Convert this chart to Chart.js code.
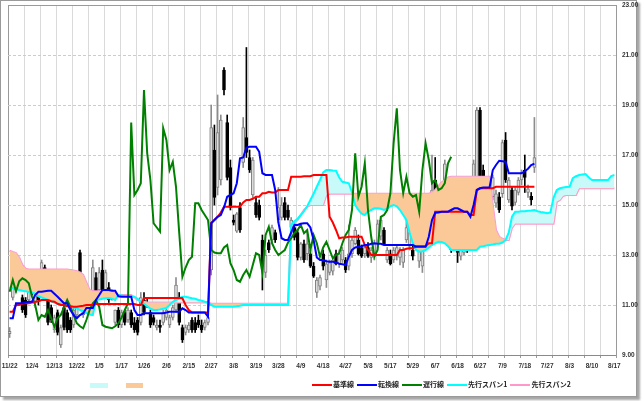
<!DOCTYPE html>
<html>
<head>
<meta charset="utf-8">
<script src="https://cdn.jsdelivr.net/npm/chart.js@4/dist/chart.umd.min.js"></script>
<style>
  body { margin: 0; background: #fff; }
  #wrap { position: relative; width: 644px; height: 401px; overflow: hidden; }
  #frame { position: absolute; left: 0; top: 0; width: 635px; height: 395px; border: 1px solid #9a9a9a;
           box-shadow: 3px 3px 2px rgba(0,0,0,0.35); background: #fff; }
  #chart { position: absolute; left: 0; top: 0; }
  .swatch { position: absolute; top: 383px; height: 5px; }
  #legend { position: absolute; left: 312px; top: 380px; display: flex; align-items: center;
            font: bold 7px "Noto Sans CJK JP", sans-serif; color: #222; line-height: 9px; white-space: nowrap; }
  #legend .ln { width: 20px; height: 2px; margin-right: 1px; }
  #legend .tx { margin-right: 3px; }
</style>
</head>
<body>
<div id="wrap">
  <div id="frame"></div>
  <canvas id="chart" width="644" height="401"></canvas>
  <div class="swatch" style="left:90px;width:18px;background:#c8fafa"></div>
  <div class="swatch" style="left:126px;width:17px;background:#fbc897"></div>
  <div id="legend"></div>
</div>
<script>
// 日付ラベル (7本ごと)
const dateLabels = ['11/22','12/4','12/13','12/22','1/5','1/17','1/26','2/6','2/15','2/27','3/8','3/19','3/28','4/9',
  '4/18','4/27','5/8','5/17','5/29','6/7','6/18','6/27','7/9','7/18','7/27','8/3','8/10','8/17'];

// ローソク足
const openPrice = [9.85,11.3,11.6,12.4,11.3,11.2,11.2,12.0,11.1,11.4, 11.9,12.5,11.2,10.9,10.0,10.7,9.4,10.9,10.7,10.4,
  10.2,10.6,13.1,10.6,10.8,11.0,10.9,12.1,11.6,12.4, 11.5,11.7,11.5,10.3,10.8,10.2,10.7,10.4,10.7,10.3,
  10.4,10.3,11.2,11.1,10.7,10.5,10.1,10.2,10.3,10.5, 10.2,10.5,10.8,11.2,10.1,9.9,10.0,10.4,10.3,10.4,
  10.2,10.1,10.3,12.4,17.2,15.7,16.0,20.4,18.3,16.5, 14.4,13.95,14.9,16.7,17.7,16.9,15.4,15.1,15.0,13.6,
  12.3,13.5,13.6,13.9,14.4,14.5,15.1,14.8,14.1,14.1, 13.9,12.9,13.45,13.05,13.05,12.55,11.5,11.75,13.05,12.0,
  12.3,12.35,13.05,12.65,12.8,12.8,12.55,13.05,13.45,13.6, 13.3,13.05,13.3,12.9,12.95,13.45,13.75,14.0,12.8,13.05,
  12.8,12.95,12.9,12.7,13.6,13.35,13.2,14.25,12.75,12.55, 13.7,14.4,14.9,16.0,15.45,15.2,15.7,15.7,14.4,14.25,
  14.4,12.95,13.1,14.1,14.15,15.6,15.9,18.8,16.4,15.2, 15.6,15.33,15.07,15.33,15.45,17.6,15.2,15.6,15.1,15.5,
  16.0,16.4,15.5,15.35,16.5];
const highPrice = [10.1,12.2,12.2,12.6,11.4,11.3,11.9,12.2,11.7,11.8, 12.8,12.6,11.4,11.0,10.6,10.8,10.2,11.0,10.8,10.5,
  10.9,11.4,13.2,11.4,11.3,11.5,12.8,12.3,12.5,12.8, 12.4,11.9,11.6,10.8,10.9,10.8,10.8,10.9,10.8,10.5,
  10.5,11.5,11.5,11.3,10.8,10.6,10.4,10.4,10.8,10.9, 10.6,11.0,12.1,11.5,10.2,10.2,10.3,10.5,10.5,10.6,
  10.4,10.4,10.6,19.0,18.2,19.4,18.6,20.5,18.6,16.8, 14.6,14.7,15.1,18.5,21.3,17.2,16.9,15.3,15.2,13.8,
  13.2,13.6,14.2,14.0,15.7,15.3,15.3,15.0,14.5,14.3, 14.0,13.5,13.6,14.0,13.2,12.7,12.1,12.2,13.2,12.8,
  12.8,12.9,13.2,13.2,13.3,12.9,14.2,13.7,14.1,13.8, 13.4,13.4,13.5,13.3,13.6,14.4,14.5,14.1,13.3,13.2,
  13.3,13.4,13.3,13.3,14.4,14.0,13.4,14.4,13.3,13.3, 14.3,15.0,17.0,16.9,15.6,15.8,16.8,15.9,14.6,14.4,
  14.5,13.9,14.3,14.2,15.8,16.8,18.9,18.9,16.6,15.7, 15.9,16.2,15.6,15.5,17.6,17.9,16.1,15.7,15.7,16.1,
  16.4,17.0,15.8,15.5,18.5];
const lowPrice = [9.7,11.2,11.5,11.6,10.7,10.5,11.1,11.4,10.9,11.0, 11.8,11.8,10.2,10.3,9.9,9.8,9.3,10.0,9.9,9.9,
  10.1,10.5,12.2,10.5,10.7,10.9,10.8,11.4,11.5,11.5, 11.4,11.1,11.2,10.2,10.1,10.1,10.2,10.3,10.1,9.9,
  9.8,10.2,10.6,10.9,10.1,10.2,10.0,9.9,10.2,10.4, 10.1,10.4,10.7,10.2,9.5,9.8,9.9,9.9,9.9,10.1,
  9.9,10.0,10.2,12.2,15.0,15.4,15.8,19.4,16.0,14.8, 14.2,13.9,13.9,16.5,16.9,16.3,15.3,14.5,14.4,11.6,
  12.1,13.1,13.5,13.5,14.3,14.4,14.4,14.4,14.0,13.6, 12.8,12.8,12.7,12.8,12.5,12.1,11.3,11.6,12.4,11.7,
  12.2,12.2,12.6,12.5,12.7,12.3,12.4,12.9,13.4,13.0, 12.9,12.9,12.9,12.7,12.8,13.4,13.6,13.4,12.7,12.6,
  12.7,12.8,12.6,12.5,13.5,13.2,12.8,13.4,12.5,12.3, 13.6,14.3,14.8,14.8,14.7,15.1,15.6,14.8,13.1,13.2,
  12.7,12.8,13.0,13.1,14.0,15.5,15.8,15.9,15.1,15.1, 15.0,15.2,14.9,14.7,15.3,15.9,15.1,14.8,15.0,15.4,
  15.8,15.5,15.3,15.0,16.3];
const closePrice = [9.95,12.0,11.9,11.9,10.8,10.6,11.7,11.5,11.6,11.2, 12.7,11.9,10.3,10.4,10.5,9.9,10.1,10.1,10.0,10.0,
  10.8,11.3,12.3,11.2,11.2,11.3,12.5,11.5,12.3,11.6, 12.3,11.2,11.3,10.8,10.2,10.7,10.3,10.8,10.2,10.0,
  9.9,11.3,10.7,11.0,10.2,10.3,10.2,10.1,10.7,10.8, 10.5,10.9,11.8,10.3,9.6,10.1,10.2,10.0,10.0,10.2,
  10.0,10.3,10.5,18.1,15.3,17.9,18.4,19.6,16.1,14.9, 14.3,14.65,14.0,18.1,17.1,16.4,16.8,14.6,14.5,12.6,
  13.0,13.2,14.1,13.6,14.9,15.0,14.5,14.5,14.4,13.7, 12.9,13.45,12.8,13.45,12.55,12.15,12.0,12.1,12.55,12.65,
  12.7,12.8,12.65,13.05,13.2,12.4,13.05,13.6,14.0,13.05, 12.95,13.3,12.95,13.2,13.45,14.25,14.4,13.45,13.2,12.65,
  13.2,13.3,13.2,13.2,14.1,13.9,12.95,13.45,13.2,13.2, 14.25,14.9,15.6,15.1,14.8,15.7,16.65,14.95,13.2,13.35,
  13.1,13.85,14.25,13.2,15.6,16.65,18.8,16.0,15.2,15.6, 15.1,16.1,15.45,14.8,17.5,16.0,16.0,14.95,15.6,16.0,
  16.3,16.1,15.65,15.2,16.9];

// 転換線
const tenkan = [10.47,10.47,11.07,11.07,11.07,11.1,11.13,11.13,11.4,11.53, 11.53,11.55,11.57,11.57,11.45,11.33,11.2,11.07,11.07,10.8,
  10.6,10.47,10.6,10.67,10.88,10.88,10.88,11.2,11.4,11.6, 11.6,11.6,11.57,11.57,11.35,11.33,11.33,11.33,11.33,10.8,
  10.6,10.6,10.67,10.67,10.67,10.67,10.67,10.67,10.67,10.7, 10.73,10.73,10.73,10.73,10.87,10.8,10.7,10.7,10.7,10.7,
  10.7,10.7,10.53,14.27,14.4,14.53,14.6,14.9,15.33,15.4, 15.47,15.87,16.87,16.9,17.3,17.33,17.33,17.33,17.13,16.27,
  16.2,16.2,16.2,15.6,14.3,13.67,13.6,13.6,13.9,14.2, 14.2,14.25,14.27,14.27,14.1,13.6,12.9,12.8,12.8,12.75,
  12.73,12.73,12.7,12.65,12.63,12.6,12.93,13.2,13.3,13.33, 13.35,13.4,13.4,13.45,13.47,13.45,13.45,13.4,13.4,13.4,
  13.4,13.4,13.4,13.4,13.4,13.4,13.4,13.33,13.33,13.33, 13.33,13.73,14.4,14.69,14.7,14.73,14.73,14.73,14.8,14.87,
  14.87,14.8,14.73,14.73,14.53,15.0,15.6,15.67,15.7,15.7, 15.71,16.4,16.6,16.77,16.75,16.73,16.27,16.27,16.27,16.27,
  16.27,16.35,16.45,16.6,16.65];

// 基準線
const kijun = [10.73,10.73,11.0,11.0,11.05,11.07,11.07,11.1,11.13,11.15, 11.2,11.2,11.2,11.15,11.13,11.05,11.0,11.0,10.95,10.95,
  10.93,10.93,10.95,10.97,11.0,11.0,11.0,11.04,11.04,11.04, 11.04,11.04,11.04,11.04,11.04,11.04,11.04,11.04,11.04,11.04,
  11.0,11.0,11.28,11.28,11.28,11.28,11.28,11.28,11.28,11.28, 11.28,11.28,11.28,11.28,11.27,11.0,10.8,10.7,10.7,10.7,
  10.7,10.7,10.7,14.28,14.4,14.53,14.7,14.93,14.93,14.93, 14.93,14.93,14.93,15.1,15.2,15.2,15.25,15.33,15.33,15.47,
  15.47,15.53,15.5,15.5,15.6,15.6,15.6,15.6,16.13,16.13, 16.13,16.13,16.15,16.15,16.15,16.2,16.2,16.2,16.2,16.2,
  14.53,14.3,14.0,13.67,13.7,13.7,13.73,13.73,13.73,13.73, 13.73,13.4,13.2,13.0,13.0,13.0,13.0,13.0,13.0,13.0,
  13.0,13.0,13.2,13.2,13.25,13.27,13.27,13.35,13.35,13.35, 13.35,13.47,13.47,14.73,14.73,14.73,14.73,14.73,14.73,14.73,
  14.73,14.73,14.73,14.73,14.6,14.6,15.6,15.67,15.67,15.67, 15.67,15.67,15.73,15.73,15.73,15.73,15.73,15.73,15.73,15.73,
  15.73,15.73,15.73,15.73,15.73];

// 遅行線
const chikou = [11.53,12.0,11.55,11.95,12.07,12.0,11.87,11.33,11.0,10.4, 10.6,10.53,10.8,10.47,10.13,10.47,10.6,10.9,11.2,10.93,
  10.6,10.27,10.15,10.07,10.4,10.8,11.07,11.2,10.93,10.2, 10.13,10.1,10.07,10.15,10.27,10.5,10.8,11.07,18.3,15.4,
  15.6,15.87,19.6,17.07,16.0,14.27,14.1,13.93,18.07,17.6, 16.4,16.73,15.73,13.9,12.13,12.5,12.8,12.93,15.07,15.07,
  14.8,14.6,14.4,13.2,13.1,13.07,13.07,13.3,13.4,12.67, 12.4,12.0,11.93,12.2,12.4,12.13,12.6,13.07,13.0,12.3,
  13.8,14.13,13.47,13.2,13.0,13.1,13.2,13.5,13.67,13.87, 14.0,14.2,13.87,14.0,13.2,13.8,13.47,12.93,13.3,13.53,
  13.2,12.87,13.0,13.07,13.47,13.8,14.0,14.8,17.07,15.33, 15.73,16.67,14.8,13.73,12.93,13.2,14.53,14.6,14.8,15.47,
  17.47,18.87,16.4,15.47,16.13,15.47,15.33,15.4,14.73,16.4, 17.47,16.8,15.87,16.0,15.6,15.67,15.87,16.67,16.93];

// 先行スパン1
const spanA = [11.71,11.68,11.65,11.6,11.57,11.55,11.52,11.5,11.45,11.35, 11.3,11.25,11.2,11.15,11.1,11.05,11.05,11.07,11.05,10.95,
  10.9,10.88,10.8,10.75,10.68,10.62,10.6,11.2,11.22,11.25, 11.27,11.28,11.25,11.2,11.4,11.38,11.36,11.35,11.34,11.33,
  11.25,11.13,11.05,10.95,10.85,10.8,10.8,10.82,10.85,10.88, 11.0,11.13,11.2,11.27,11.33,11.33,11.3,11.27,11.25,11.2,
  11.17,11.13,11.1,11.0,10.93,10.93,10.93,10.93,10.93,10.93, 10.93,10.95,10.97,11.0,11.0,11.0,11.0,11.0,11.0,11.0,
  11.0,11.0,11.0,11.0,11.0,11.0,11.0,11.0,14.2,14.35, 14.45,14.6,14.75,14.95,15.2,15.45,15.73,16.0,16.3,16.4,
  16.4,16.38,16.37,16.1,15.93,15.9,15.87,15.5,15.0,14.8, 14.65,14.6,14.75,14.8,14.87,14.87,14.85,14.8,14.85,14.95,
  15.0,14.95,14.8,14.6,14.4,13.9,13.47,13.2,13.13,13.15, 13.2,13.3,13.4,13.47,13.53,13.52,13.47,13.35,13.2,13.2,
  13.2,13.2,13.2,13.2,13.2,13.2,13.2,13.33,13.35,13.38, 13.4,13.42,13.45,13.45,13.5,13.6,13.9,14.53,14.73,14.73,
  14.75,14.75,14.77,14.78,14.8,14.75,14.72,14.7,14.67,14.7, 15.3,15.6,15.67,15.7,15.72,15.73,16.07,16.15,16.2,16.22,
  16.24,16.1,16.0,16.0,16.0,16.0,16.0,16.0,16.16,16.2];

// 先行スパン2
const spanB = [13.17,13.12,13.08,12.9,12.6,12.45,12.42,12.42,12.42,12.42, 12.42,12.42,12.42,12.42,12.42,12.42,12.42,12.42,12.42,12.4,
  12.38,12.35,12.3,12.2,11.9,11.6,11.55,11.55,11.55,11.55, 11.55,11.55,11.55,11.45,11.4,11.4,11.4,11.4,11.4,11.3,
  11.2,11.15,11.13,11.1,11.1,11.1,11.1,11.1,11.1,11.1, 11.1,11.1,11.1,11.1,11.1,11.1,11.1,11.1,11.1,11.1,
  11.1,11.1,11.1,11.05,11.05,11.05,11.05,11.05,11.05,11.05, 11.05,11.05,11.05,11.05,11.05,11.05,11.05,11.05,11.05,11.05,
  11.05,11.05,11.05,11.05,11.05,11.05,11.05,11.05,14.13,14.3, 14.4,14.6,14.8,14.93,15.0,15.0,15.0,15.0,15.0,15.4,
  15.45,15.45,15.45,15.45,15.45,15.45,15.45,15.45,15.45,15.45, 15.45,15.45,15.45,15.45,15.45,15.45,15.45,15.45,15.45,15.45,
  15.45,15.45,15.45,15.45,15.45,15.45,15.45,15.45,15.45,15.45, 15.45,15.45,15.5,15.6,15.75,15.9,16.0,16.1,16.13,16.13,
  16.13,16.13,16.13,16.13,16.13,16.13,16.13,16.13,16.13,16.13, 16.13,15.0,14.0,13.73,13.65,13.6,13.6,14.08,14.25,14.25,
  14.25,14.25,14.25,14.25,14.25,14.25,14.25,14.25,14.25,14.25, 14.25,15.13,15.2,15.36,15.4,15.4,15.4,15.4,15.67,15.67,
  15.67,15.67,15.67,15.67,15.67,15.67,15.67,15.67,15.67,15.67];

const yTicks = [9, 11, 13, 15, 17, 19, 21, 23];

const totalBars = spanA.length;           // 190
const COLOR_UP = '#8c8c8c';
const tickFont = { family: 'Liberation Sans', size: 6.5, weight: 'bold' };

const toPoints = (vals) => vals.map((v, i) => ({ x: i, y: v }));
const isUp = (i) => closePrice[i] >= openPrice[i];

const lineSet = (label, vals, color, order, extra) => Object.assign({
  type: 'line', label, data: toPoints(vals), borderColor: color, borderWidth: 2,
  pointRadius: 0, tension: 0, fill: false, order,
}, extra || {});

const datasets = [
  lineSet('転換線', tenkan, '#0000ff', 0),
  lineSet('基準線', kijun, '#ff0000', 1),
  lineSet('遅行線', chikou, '#008000', 2),
  lineSet('先行スパン1', spanA, '#00ffff', 3, { fill: { target: 4, above: '#c8fafa', below: '#fbc897' } }),
  lineSet('先行スパン2', spanB, '#ff99cc', 4),
  {
    type: 'bar', label: 'body', order: 5, grouped: false, barThickness: 3, minBarLength: 1,
    data: openPrice.map((o, i) => ({ x: i, y: [o, closePrice[i]] })),
    backgroundColor: openPrice.map((o, i) => isUp(i) ? '#dcdcdc' : '#000'),
    borderColor: openPrice.map((o, i) => isUp(i) ? '#808080' : '#000'),
    borderWidth: 1, borderSkipped: false,
  },
  {
    type: 'bar', label: 'wick', order: 6, grouped: false, barThickness: 1,
    data: lowPrice.map((l, i) => ({ x: i, y: [l, highPrice[i]] })),
    backgroundColor: lowPrice.map((l, i) => isUp(i) ? COLOR_UP : '#000'),
  },
];

const isLabelTick = (v) => Number.isInteger(v) && v % 7 === 0;

new Chart(document.getElementById('chart'), {
  type: 'line',
  data: { datasets },
  options: {
    responsive: false,
    animation: false,
    layout: { padding: { left: 8, top: 5, right: 0, bottom: 0 } },
    plugins: { legend: { display: false }, tooltip: { enabled: false } },
    scales: {
      x: {
        type: 'linear', min: -0.5, max: totalBars - 0.5, offset: false,
        afterBuildTicks: (axis) => {
          const t = [];
          for (let v = -0.5; v <= totalBars - 0.5; v += 5) t.push({ value: v });
          dateLabels.forEach((d, k) => t.push({ value: k * 7 }));
          t.sort((a, b) => a.value - b.value);
          axis.ticks = t;
        },
        ticks: {
          autoSkip: false, maxRotation: 0, minRotation: 0, padding: 4,
          font: tickFont, color: '#333',
          callback: (v) => isLabelTick(v) ? dateLabels[v / 7] : '',
        },
        grid: {
          offset: false, tickLength: 3,
          color: (ctx) => {
            const v = ctx.tick ? ctx.tick.value : 0;
            if (isLabelTick(v)) return 'rgba(0,0,0,0)';
            return (v === -0.5 || v === totalBars - 0.5) ? '#9a9a9a' : '#dadada';
          },
          tickColor: (ctx) => (ctx.tick && isLabelTick(ctx.tick.value)) ? 'rgba(0,0,0,0)' : '#9a9a9a',
        },
        border: { color: '#8a8a8a' },
        afterFit: (s) => { s.height = 46; s.paddingLeft = 0; s.paddingRight = 0; },
      },
      y: {
        position: 'right', min: 9, max: 23,
        afterBuildTicks: (axis) => { axis.ticks = yTicks.map(v => ({ value: v })); },
        ticks: { padding: 6, font: tickFont, color: '#333', callback: (v) => v.toFixed(2) },
        grid: {
          drawTicks: false,
          color: (ctx) => (ctx.tick && ctx.tick.value === 23) ? '#9a9a9a' : '#cccccc',
        },
        border: {
          color: '#9a9a9a',
          dash: (ctx) => (ctx.tick && ctx.tick.value !== 23) ? [3, 2] : [],
        },
        afterFit: (s) => { s.width = 28; s.paddingTop = 0; s.paddingBottom = 0; },
      },
    },
  },
});

// 凡例
const legendItems = [
  { label: '基準線', color: '#ff0000' },
  { label: '転換線', color: '#0000ff' },
  { label: '遅行線', color: '#008000' },
  { label: '先行スパン1', color: '#00ffff' },
  { label: '先行スパン2', color: '#ff99cc' },
];
const legend = document.getElementById('legend');
legendItems.forEach((it) => {
  const ln = document.createElement('span');
  ln.className = 'ln';
  ln.style.background = it.color;
  const tx = document.createElement('span');
  tx.className = 'tx';
  tx.textContent = it.label;
  legend.appendChild(ln);
  legend.appendChild(tx);
});
</script>
</body>
</html>
